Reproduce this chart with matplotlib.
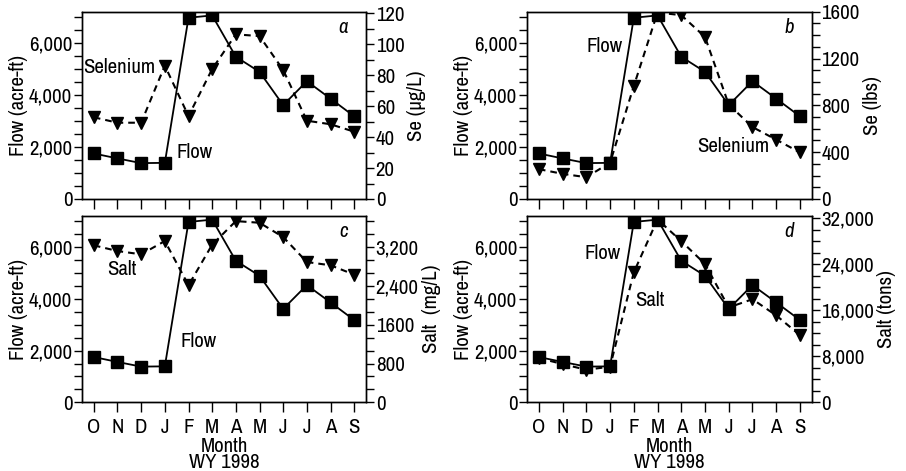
import matplotlib
matplotlib.use("Agg")
import matplotlib.pyplot as plt
from matplotlib import font_manager
from matplotlib.ticker import FixedLocator, MultipleLocator, FuncFormatter

# prefer a narrow sans face for the labels
narrow = None
for f in font_manager.fontManager.ttflist:
    if "Narrow" in f.name or "Condensed" in f.name:
        narrow = f.name
        break
plt.rcParams['font.family'] = [narrow or 'DejaVu Sans', 'DejaVu Sans']
plt.rcParams['font.stretch'] = 'condensed'
plt.rcParams['font.size'] = 15

months = ["O", "N", "D", "J", "F", "M", "A", "M", "J", "J", "A", "S"]

# monthly flow, acre-ft (water year 1998)
flow = [1750, 1560, 1380, 1390, 6970, 7060, 5470, 4890, 3610, 4530, 3860, 3180]

# selenium concentration, ug/L
se_conc = [52.8, 49.3, 49.3, 86.2, 53.6, 84.0, 106.4, 105.3, 83.4, 50.6, 48.3, 43.5]
# selenium load, lbs
se_load = [255, 215, 186, 310, 965, 1594, 1571, 1385, 807, 615, 507, 398]
# salt concentration, mg/L
salt_conc = [3235, 3118, 3050, 3324, 2412, 3249, 3735, 3701, 3406, 2892, 2824, 2632]
# salt load, tons
salt_load = [7700, 6650, 5660, 6200, 22600, 31800, 28030, 24060, 16500, 17930, 15120, 11680]

panels = [
    dict(key="a", data=se_conc, rlabel="Se (\u00b5g/L)", rmax=121,
         rticks=[0, 20, 40, 60, 80, 100, 120], rlabels=["0", "20", "40", "60", "80", "100", "120"],
         rminor=10,
         notes=[("Selenium", 2.6, 5050, "right"), ("Flow", 3.5, 1770, "left")]),
    dict(key="b", data=se_load, rlabel="Se (lbs)", rmax=1600,
         rticks=[0, 400, 800, 1200, 1600], rlabels=["0", "400", "800", "1200", "1600"],
         rminor=100,
         notes=[("Flow", 2.02, 5880, "left"), ("Selenium", 6.68, 2000, "left")]),
    dict(key="c", data=salt_conc, rlabel="Salt  (mg/L)", rmax=3840,
         rticks=[0, 800, 1600, 2400, 3200], rlabels=["0", "800", "1600", "2,400", "3,200"],
         rminor=800 / 3,
         notes=[("Salt", 0.58, 5130, "left"), ("Flow", 3.66, 2340, "left")]),
    dict(key="d", data=salt_load, rlabel="Salt (tons)", rmax=32400,
         rticks=[0, 8000, 16000, 24000, 32000], rlabels=["0", "8,000", "16,000", "24,000", "32,000"],
         rminor=2000,
         notes=[("Flow", 1.94, 5750, "left"), ("Salt", 4.06, 3950, "left")]),
]

fig = plt.figure(figsize=(9.06, 4.71), dpi=100)
boxes = [
    (0.0905, 0.5775, 0.3135, 0.3975),
    (0.5817, 0.5775, 0.3143, 0.3975),
    (0.0905, 0.1458, 0.3135, 0.3956),
    (0.5817, 0.1458, 0.3143, 0.3956),
]

x = list(range(len(months)))
tick_kw = dict(direction="out", length=6, width=1.0, color="black")

for i, (p, box) in enumerate(zip(panels, boxes)):
    ax = fig.add_axes(box)
    ax2 = ax.twinx()
    ax.set_zorder(ax2.get_zorder() + 1)
    ax.patch.set_visible(False)

    ax2.plot(x, p["data"], color="black", lw=1.5, ls=(0, (3.2, 2.4)),
             marker="v", ms=8, mfc="black", mec="black")
    ax.plot(x, flow, color="black", lw=1.3, marker="s", ms=9,
            mfc="black", mec="black")

    ax.set_xlim(-0.5, 11.5)
    ax.set_ylim(0, 7200)
    ax.yaxis.set_major_locator(FixedLocator([0, 2000, 4000, 6000]))
    ax.yaxis.set_minor_locator(MultipleLocator(500))
    ax.yaxis.set_major_formatter(FuncFormatter(lambda v, pos: f"{int(v):,}"))
    ax.set_ylabel("Flow (acre-ft)", labelpad=1)

    ax2.set_ylim(0, p["rmax"])
    ax2.yaxis.set_major_locator(FixedLocator(p["rticks"]))
    ax2.set_yticklabels(p["rlabels"])
    ax2.yaxis.set_minor_locator(MultipleLocator(p["rminor"]))
    ax2.set_ylabel(p["rlabel"], labelpad=2)

    ax.set_xticks(x)
    if i >= 2:
        ax.set_xticklabels(months)
        ax.set_xlabel("Month\nWY 1998", labelpad=0, linespacing=0.85)
    else:
        ax.set_xticklabels([])

    for a in (ax, ax2):
        a.tick_params(axis="both", which="both", **tick_kw)
        a.tick_params(axis="both", which="major", pad=1.0)
        for s in a.spines.values():
            s.set_linewidth(1.0)
    ax.tick_params(axis="x", length=7, pad=4)

    for txt, tx, ty, ha in p["notes"]:
        ax.text(tx, ty, txt, ha=ha, va="center")
    ax.text(0.92, 0.915, p["key"], transform=ax.transAxes, ha="center",
            va="center", style="italic", fontsize=15)

fig.savefig("out.png", dpi=100)
